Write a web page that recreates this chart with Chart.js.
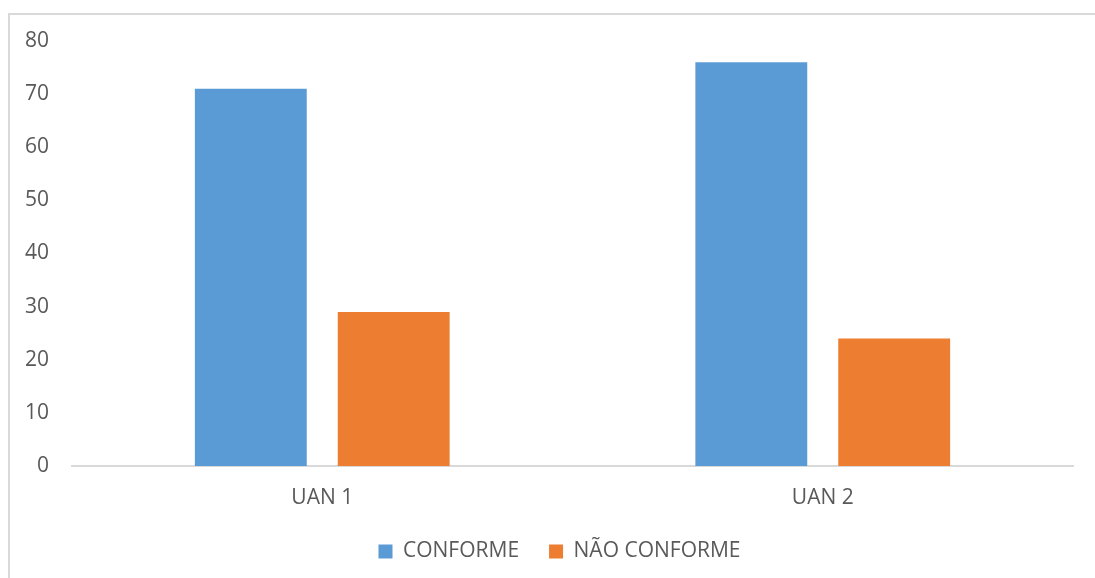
<!DOCTYPE html>
<html>
<head>
<meta charset="utf-8">
<script src="https://cdn.jsdelivr.net/npm/chart.js@4"></script>
<style>
  body { margin: 0; background: #fff; }
  #wrap { position: relative; width: 1095px; height: 578px; overflow: hidden; }
  #frame {
    position: absolute; left: 8px; top: 13px; width: 1200px; height: 700px;
    border-left: 2px solid #d9d9d9; border-top: 2px solid #d9d9d9;
  }
  canvas { position: absolute; left: 0; top: 0; }
</style>
</head>
<body>
<div id="wrap">
  <div id="frame"></div>
  <canvas id="chart" width="1095" height="578"></canvas>
</div>
<script>
document.addEventListener('DOMContentLoaded', function () {
  const categories = ['UAN 1', 'UAN 2'];
  const conforme = [71, 76];
  const naoConforme = [29, 24];
  const yTicks = [0, 10, 20, 30, 40, 50, 60, 70, 80];

  const textColor = '#595959';
  const font = { family: '"Open Sans", sans-serif', size: 21 };

  // nudge the legend a bit to the right of the plot centre
  const legendShift = {
    id: 'legendShift',
    afterLayout(chart) {
      if (chart.legend) {
        chart.legend.left += 18;
        chart.legend.right += 18;
      }
    },
  };

  const ctx = document.getElementById('chart').getContext('2d');
  window.myBar = new Chart(ctx, {
    type: 'bar',
    data: {
      labels: categories,
      datasets: [
        { label: 'CONFORME', data: conforme, backgroundColor: '#5B9BD5' },
        { label: 'NÃO CONFORME', data: naoConforme, backgroundColor: '#ED7D31' },
      ],
    },
    options: {
      responsive: false,
      animation: false,
      categoryPercentage: 0.571,
      barPercentage: 0.783,
      layout: { padding: { left: 10, right: 22, top: 41, bottom: 6 } },
      plugins: {
        tooltip: { enabled: false },
        legend: {
          position: 'bottom',
          labels: {
            color: textColor,
            font: font,
            boxWidth: 14,
            boxHeight: 14,
            padding: 30,
          },
        },
      },
      scales: {
        x: {
          grid: { display: false },
          border: { display: true, color: '#d9d9d9', width: 2 },
          ticks: { color: textColor, font: font, padding: 11 },
          afterFit: function (scale) { scale.height = 45; },
        },
        y: {
          min: 0,
          max: 80,
          afterBuildTicks: function (scale) {
            scale.ticks = yTicks.map(v => ({ value: v }));
          },
          grid: { display: false, drawTicks: false },
          border: { display: false },
          ticks: { color: textColor, font: font, padding: 23 },
          afterFit: function (scale) { scale.width = 62; },
        },
      },
    },
    plugins: [legendShift],
  });
});
</script>
</body>
</html>
